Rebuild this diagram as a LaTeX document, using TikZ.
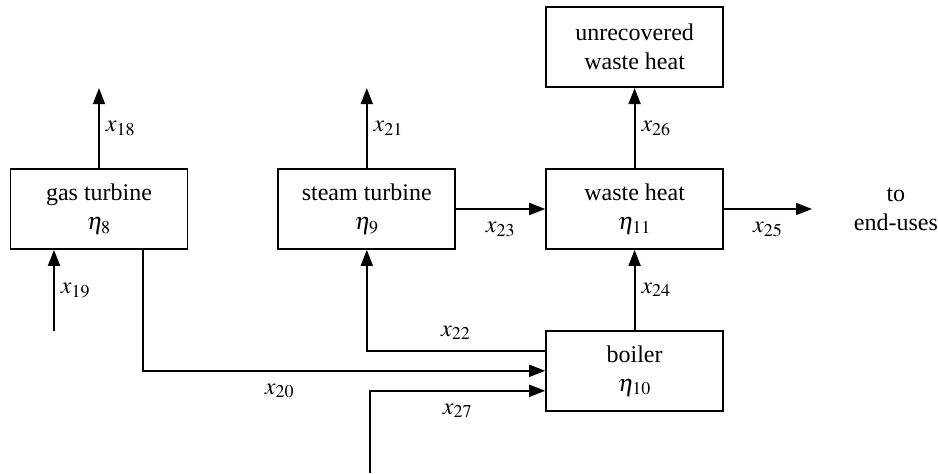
\documentclass[tikz,border=0pt]{standalone}
\usepackage{mathptmx}
\usepackage{fontspec}
\setmainfont{Liberation Serif}
\usepackage{tikz}
\usetikzlibrary{positioning,arrows.meta,calc}

\begin{document}
\begin{tikzpicture}[
  font=\fontsize{12}{14.5}\selectfont, >={Triangle[length=8pt,width=6pt]},
  line width=0.9pt,
  blk/.style={draw, align=center, minimum width=88.5pt, minimum height=40pt, inner sep=2pt},
  lbl/.style={inner sep=2pt}]
  \useasboundingbox (-49.5pt,104.5pt) rectangle ++(469pt,-237pt);
  % units
  \node[blk] (gt) at (0,0) {gas turbine\\$\eta_8$};
  \node[blk, right=44.5pt of gt] (st) {steam turbine\\$\eta_9$};
  \node[blk, right=44.5pt of st] (wh) {waste heat\\$\eta_{11}$};
  \node[blk, above=40pt of wh] (uw) {unrecovered\\waste heat};
  \node[blk, below=40pt of wh] (bo) {boiler\\$\eta_{10}$};
  % free ends
  \coordinate[above=40pt of gt.north] (out18);
  \coordinate[above=40pt of st.north] (out21);
  \coordinate[right=44pt of wh.east] (out25);
  \coordinate (in19) at ($(gt.south)+(-22.5pt,-40.5pt)$);
  \coordinate (in27) at ($(bo.west)+(-87.5pt,-51pt)$);
  \node[right=20.5pt of out25, align=center, inner sep=0pt] (enduse) {to\\end-uses};
  % flows
  \draw[->] (gt.north) -- (out18) node[lbl, midway, right=1pt] {$x_{18}$};
  \draw[->] (in19) -- (in19 |- gt.south) node[lbl, midway, right=1pt] {$x_{19}$};
  \draw[->] (st.north) -- (out21) node[lbl, midway, right=1pt] {$x_{21}$};
  \draw[->] (st) -- (wh) node[lbl, midway, below=4pt] {$x_{23}$};
  \draw[->] (wh) -- (out25) node[lbl, midway, below=4pt] {$x_{25}$};
  \draw[->] (wh) -- (uw) node[lbl, midway, right=1pt] {$x_{26}$};
  \draw[->] (bo) -- (wh) node[lbl, midway, right=1pt] {$x_{24}$};
  \draw[->] ($(gt.south)+(22pt,0)$) |- (bo.west) node[lbl, pos=0.67, below=4pt] {$x_{20}$};
  \draw[->] ($(bo.west)+(0,10pt)$) -| (st.south) node[lbl, pos=0.25, above=3pt] {$x_{22}$};
  \draw[->] (in27) |- ($(bo.west)+(0,-10pt)$) node[lbl, pos=0.75, below=4pt] {$x_{27}$};
\end{tikzpicture}
\end{document}
